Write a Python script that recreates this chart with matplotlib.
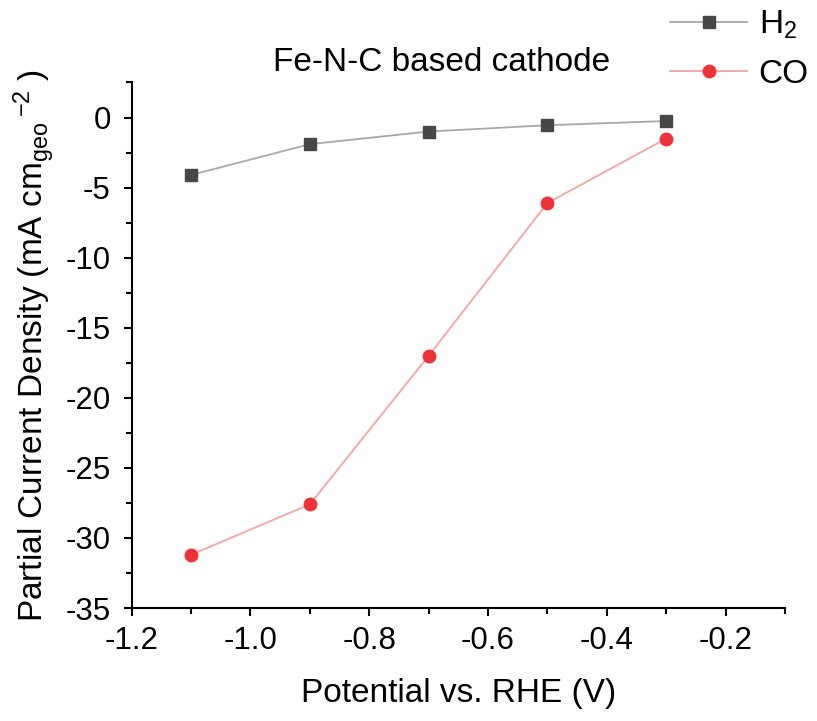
import matplotlib
matplotlib.use("Agg")
import matplotlib.pyplot as plt
from matplotlib.ticker import MultipleLocator

plt.rcParams['font.family'] = ['Liberation Sans', 'DejaVu Sans']
plt.rcParams['mathtext.fontset'] = 'custom'
plt.rcParams['mathtext.rm'] = 'Liberation Sans'
plt.rcParams['mathtext.it'] = 'Liberation Sans'

potential = [-1.1, -0.9, -0.7, -0.5, -0.3]
h2 = [-4.1, -1.9, -1.0, -0.55, -0.25]
co = [-31.2, -27.6, -17.0, -6.1, -1.5]

xticks = [-1.2, -1.0, -0.8, -0.6, -0.4, -0.2]
xticklabels = ['-1.2', '-1.0', '-0.8', '-0.6', '-0.4', '-0.2']
yticks = [0, -5, -10, -15, -20, -25, -30, -35]
yticklabels = ['0', '-5', '-10', '-15', '-20', '-25', '-30', '-35']

fig = plt.figure(figsize=(8.17, 7.21), dpi=100)
ax = fig.add_axes([0.1612, 0.1567, 0.7996, 0.7289])

ax.plot(potential, h2, '-s', color='#a8a8a8', lw=1.3, mfc='#474747', mec='#474747', ms=8.5, label='H$_2$')
ax.plot(potential, co, '-o', color='#f5a3a3', lw=1.3, mfc='#ee3338', mec='#ee3338', ms=9, label='CO')

ax.set_xlim(-1.2, -0.1)
ax.set_ylim(-35, 2.5)
ax.xaxis.set_minor_locator(MultipleLocator(0.1))
ax.yaxis.set_minor_locator(MultipleLocator(2.5))
ax.set_xticks(xticks)
ax.set_xticklabels(xticklabels)
ax.set_yticks(yticks)
ax.set_yticklabels(yticklabels)

for s in ['top', 'right']:
    ax.spines[s].set_visible(False)
for s in ['left', 'bottom']:
    ax.spines[s].set_linewidth(1.5)
ax.tick_params(which='major', direction='out', length=6, width=1.5, labelsize=22.5)
ax.tick_params(axis='x', which='major', pad=7)
ax.tick_params(axis='y', which='major', pad=9)
ax.tick_params(which='minor', direction='out', length=4, width=1.5)

ax.set_xlabel('Potential vs. RHE (V)', fontsize=24, labelpad=16)
ax.set_ylabel('Partial Current Density (mA cm$_{\\mathregular{geo}}\\,{}^{\\mathregular{-2}}$ )',
              fontsize=24, labelpad=6)

fig.text(0.54, 0.913, 'Fe-N-C based cathode', fontsize=24, ha='center', va='center')

fig.legend(loc='upper right', bbox_to_anchor=(1.0, 1.0), frameon=False, fontsize=24,
           handlelength=2.3, handletextpad=0.35, labelspacing=0.55, borderaxespad=0.1,
           borderpad=0.15)

fig.savefig('out.png', dpi=100)
